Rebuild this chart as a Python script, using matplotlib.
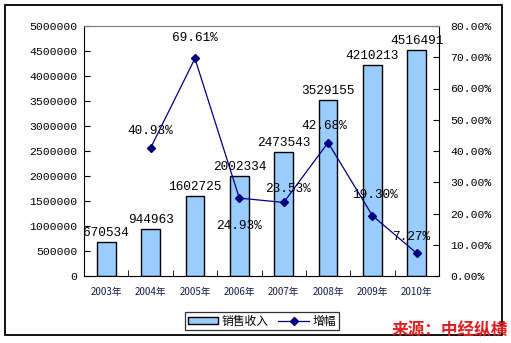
import matplotlib.pyplot as plt
from matplotlib.patches import Rectangle

plt.rcParams['font.family'] = ['Noto Sans CJK SC', 'DejaVu Sans']

years = ['2003年', '2004年', '2005年', '2006年', '2007年', '2008年', '2009年', '2010年']
sales = [670534, 944963, 1602725, 2002334, 2473543, 3529155, 4210213, 4516491]
growth = [None, 40.93, 69.61, 24.93, 23.53, 42.68, 19.30, 7.27]

W, H = 511, 343
fig = plt.figure(figsize=(W / 100, H / 100), dpi=100)

# outer frame
fig.patches.append(Rectangle((5 / W, 1 - 335 / H), 497 / W, 330 / H,
                             transform=fig.transFigure, fill=False,
                             edgecolor='black', linewidth=1.3))

ax = fig.add_axes([84 / W, 1 - 276 / H, 355 / W, 250 / H])
x = list(range(len(years)))
bars = ax.bar(x, sales, width=0.42, color='#99CCFF', edgecolor='black',
              linewidth=1.0, label='销售收入', zorder=2)
for xi, v in zip(x, sales):
    ax.text(xi, v + 60000, str(v), ha='center', va='bottom',
            fontsize=9.2, family='Liberation Mono', zorder=5)

ax.set_xlim(-0.5, len(years) - 0.5)
ax.set_ylim(0, 5000000)
ax.set_yticks(range(0, 5000001, 500000))
ax.set_yticklabels([str(t) for t in range(0, 5000001, 500000)],
                   family='Liberation Mono', fontsize=8.2)
ax.set_xticks(x)
ax.set_xticklabels(years, fontsize=7, color='#1a1a4a')
ax.set_xticks([i + 0.5 for i in x[:-1]], minor=True)
ax.tick_params(axis='x', which='major', length=0, pad=8)
ax.tick_params(axis='x', which='minor', length=4, direction='in')
ax.tick_params(axis='y', direction='in', length=4, pad=5)
ax.spines['top'].set_color('#808080')
ax.spines['right'].set_visible(False)

ax2 = ax.twinx()
ax2.set_ylim(0, 80)
pts_x = [xi for xi, g in zip(x, growth) if g is not None]
pts_y = [g for g in growth if g is not None]
line, = ax2.plot(pts_x, pts_y, color='#000080', linewidth=0.9, marker='D',
                 markersize=4, label='增幅', zorder=4)
label_dy = [12, 15, -20, 10, 12, 15, 12]
label_dx = [0, 0, 0, 3, -3, 2, -4]
for px, py, dy, dx in zip(pts_x, pts_y, label_dy, label_dx):
    ax2.annotate(f'{py:.2f}%', (px, py), xytext=(dx, dy), textcoords='offset points',
                 ha='center', va='center', fontsize=9.2, family='Liberation Mono')
ax2.set_yticks(range(0, 81, 10))
ax2.set_yticklabels([f'{t:.2f}%' for t in range(0, 81, 10)],
                    family='Liberation Mono', fontsize=8.2)
ax2.tick_params(axis='y', direction='in', length=4, pad=8)
ax2.spines['top'].set_color('#808080')
ax2.spines['left'].set_visible(False)
ax2.spines['bottom'].set_visible(False)

leg = fig.legend([bars, line], ['销售收入', '增幅'], loc='center',
                 bbox_to_anchor=(262 / W, 1 - 321 / H), ncol=2, fontsize=8.5,
                 frameon=True, fancybox=False, edgecolor='black',
                 handlelength=2.6, handleheight=0.6, columnspacing=0.8,
                 handletextpad=0.3, borderpad=0.25, borderaxespad=0)
leg.get_frame().set_linewidth(0.9)

fig.text(508 / W, 1 - 330 / H, '来源：中经纵横', ha='right', va='center',
         fontsize=12, fontweight='bold', color='#E02020')

fig.savefig('out.png', dpi=100)
